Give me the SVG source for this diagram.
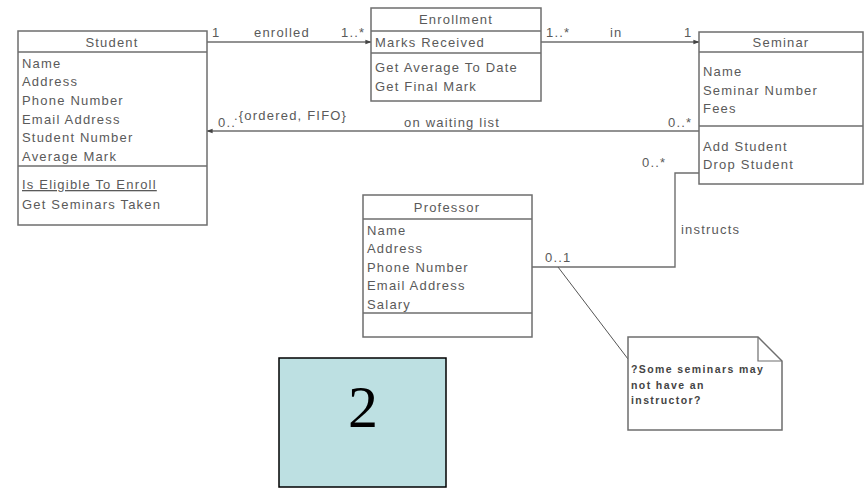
<svg xmlns="http://www.w3.org/2000/svg" width="866" height="488" viewBox="0 0 866 488">
  <style>
    .box { fill: #ffffff; stroke: #6e6e6e; stroke-width: 1.5; }
    .sep { stroke: #6e6e6e; stroke-width: 1.5; fill: none; }
    .t { font-family: "Liberation Sans", Arial, sans-serif; font-size: 13px; letter-spacing: 1.2px; fill: #5a5a5a; }
    .hd { text-anchor: middle; }
    .conn { stroke: #6e6e6e; stroke-width: 1.4; fill: none; }
    .note { font-family: "Liberation Sans", Arial, sans-serif; font-size: 10.5px; letter-spacing: 1.4px; font-weight: bold; fill: #444444; }
  </style>
  <defs>
    <marker id="arrow" viewBox="0 0 8 8" refX="7.5" refY="4" markerWidth="6" markerHeight="6" orient="auto" markerUnits="userSpaceOnUse">
      <path d="M0,1 L8,4 L0,7 z" fill="#444444"/>
    </marker>
  </defs>
  <rect width="866" height="488" fill="#ffffff"/>

  <g id="connectors">
    <!-- Student -> Enrollment (enrolled) -->
    <line class="conn" x1="207" y1="42" x2="371" y2="42" marker-end="url(#arrow)"/>
    <text class="t" x="212" y="37">1</text>
    <text class="t" x="254" y="37">enrolled</text>
    <text class="t" x="341" y="37" font-size="11">1..*</text>
    <!-- Enrollment -> Seminar (in) -->
    <line class="conn" x1="541" y1="42" x2="699" y2="42" marker-end="url(#arrow)"/>
    <text class="t" x="546" y="37" font-size="11">1..*</text>
    <text class="t" x="610" y="37">in</text>
    <text class="t" x="684" y="37">1</text>
    <!-- Seminar -> Student (on waiting list) -->
    <line class="conn" x1="699" y1="131" x2="207" y2="131" marker-end="url(#arrow)"/>
    <text class="t" x="218" y="127" font-size="11">0..</text>
    <text class="t" x="234" y="120">.{ordered, FIFO}</text>
    <text class="t" x="452" y="127" text-anchor="middle">on waiting list</text>
    <text class="t" x="668" y="127" font-size="11">0..*</text>
    <!-- Seminar - Professor (instructs) -->
    <polyline class="conn" points="699,173 675,173 675,267 532,267"/>
    <text class="t" x="642" y="167" font-size="11">0..*</text>
    <text class="t" x="681" y="234">instructs</text>
    <text class="t" x="545" y="262" font-size="11">0..1</text>
    <!-- Note anchor -->
    <line x1="558" y1="267" x2="628" y2="359" stroke="#555555" stroke-width="1"/>
  </g>

  <g id="student">
    <rect class="box" x="18" y="31" width="189" height="194"/>
    <line class="sep" x1="18" y1="52" x2="207" y2="52"/>
    <line class="sep" x1="18" y1="166" x2="207" y2="166"/>
    <text class="t hd" x="112" y="47">Student</text>
    <text class="t" x="22" y="68">Name</text>
    <text class="t" x="22" y="86">Address</text>
    <text class="t" x="22" y="105">Phone Number</text>
    <text class="t" x="22" y="124">Email Address</text>
    <text class="t" x="22" y="142">Student Number</text>
    <text class="t" x="22" y="161">Average Mark</text>
    <text class="t" x="22" y="189" text-decoration="underline">Is Eligible To Enroll</text>
    <text class="t" x="22" y="209">Get Seminars Taken</text>
  </g>

  <g id="enrollment">
    <rect class="box" x="371" y="8" width="170" height="93"/>
    <line class="sep" x1="371" y1="31" x2="541" y2="31"/>
    <line class="sep" x1="371" y1="53" x2="541" y2="53"/>
    <text class="t hd" x="456" y="24">Enrollment</text>
    <text class="t" x="375" y="47">Marks Received</text>
    <text class="t" x="375" y="72">Get Average To Date</text>
    <text class="t" x="375" y="91">Get Final Mark</text>
  </g>

  <g id="seminar">
    <rect class="box" x="699" y="32" width="164" height="152"/>
    <line class="sep" x1="699" y1="52" x2="863" y2="52"/>
    <line class="sep" x1="699" y1="126" x2="863" y2="126"/>
    <text class="t hd" x="781" y="47">Seminar</text>
    <text class="t" x="703" y="76">Name</text>
    <text class="t" x="703" y="95">Seminar Number</text>
    <text class="t" x="703" y="113">Fees</text>
    <text class="t" x="703" y="151">Add Student</text>
    <text class="t" x="703" y="169">Drop Student</text>
  </g>

  <g id="professor">
    <rect class="box" x="363" y="195" width="169" height="142"/>
    <line class="sep" x1="363" y1="219" x2="532" y2="219"/>
    <line class="sep" x1="363" y1="313" x2="532" y2="313"/>
    <text class="t hd" x="447" y="212">Professor</text>
    <text class="t" x="367" y="235">Name</text>
    <text class="t" x="367" y="253">Address</text>
    <text class="t" x="367" y="272">Phone Number</text>
    <text class="t" x="367" y="290">Email Address</text>
    <text class="t" x="367" y="309">Salary</text>
  </g>

  <g id="note">
    <path d="M628,337 L758,337 L782,361 L782,430 L628,430 Z" fill="#ffffff" stroke="#6e6e6e" stroke-width="1.5"/>
    <path d="M758,337 L758,361 L782,361" fill="none" stroke="#6e6e6e" stroke-width="1.2"/>
    <text class="note" x="631" y="373">?Some seminars may</text>
    <text class="note" x="631" y="389">not have an</text>
    <text class="note" x="631" y="404">instructor?</text>
  </g>

  <g id="slide-number">
    <rect x="279" y="358" width="167" height="129" fill="#bde0e2" stroke="#000000" stroke-width="1.5"/>
    <text x="363" y="427" text-anchor="middle" font-family="Liberation Serif, 'Times New Roman', serif" font-size="60" fill="#000000">2</text>
  </g>
</svg>
